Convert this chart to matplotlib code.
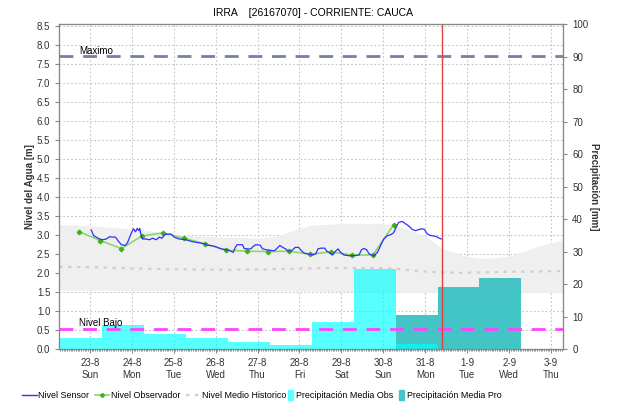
import numpy as np
import matplotlib
matplotlib.use('Agg')
import matplotlib.pyplot as plt
from matplotlib.lines import Line2D
from matplotlib.patches import Patch, Rectangle
from matplotlib.legend_handler import HandlerPatch

#time axis in days counted from 23-8 00:00
day_labels = ['23-8\nSun', '24-8\nMon', '25-8\nTue', '26-8\nWed', '27-8\nThu', '28-8\nFri',
              '29-8\nSat', '30-8\nSun', '31-8\nMon', '1-9\nTue', '2-9\nWed', '3-9\nThu']

#sensor water level [m]
sensor_t = [0.03, 0.09, 0.15, 0.23, 0.31, 0.39, 0.47, 0.55, 0.61, 0.67, 0.75, 0.85, 0.90, 0.98,
            1.04, 1.09, 1.13, 1.17, 1.19, 1.22, 1.26, 1.34, 1.42, 1.50, 1.58, 1.66, 1.72, 1.78,
            1.86, 1.94, 2.01, 2.13, 2.29, 2.45, 2.61, 2.75, 2.81, 2.97, 3.13, 3.29, 3.36, 3.42,
            3.47, 3.51, 3.64, 3.68, 3.76, 3.84, 3.90, 3.96, 4.06, 4.12, 4.24, 4.40, 4.46, 4.53,
            4.60, 4.67, 4.75, 4.83, 4.90, 4.98, 5.03, 5.11, 5.19, 5.31, 5.39, 5.44, 5.51, 5.60,
            5.65, 5.70, 5.79, 5.87, 5.92, 5.98, 6.06, 6.18, 6.30, 6.42, 6.48, 6.54, 6.60, 6.66,
            6.78, 6.86, 6.94, 7.01, 7.10, 7.17, 7.24, 7.27, 7.32, 7.37, 7.45, 7.53, 7.61, 7.69,
            7.77, 7.85, 7.93, 7.98, 8.05, 8.13, 8.25, 8.32, 8.38]
sensor_level = [3.14, 2.99, 2.95, 2.90, 2.88, 2.90, 2.96, 2.95, 2.95, 2.86, 2.75, 2.73, 2.81, 3.03,
                3.17, 3.09, 3.18, 3.12, 3.18, 3.01, 2.90, 2.90, 2.88, 2.92, 2.88, 2.95, 2.92, 3.01,
                3.03, 3.03, 2.95, 2.90, 2.88, 2.83, 2.80, 2.77, 2.74, 2.71, 2.64, 2.61, 2.58, 2.55,
                2.68, 2.75, 2.75, 2.65, 2.64, 2.64, 2.71, 2.75, 2.74, 2.64, 2.61, 2.59, 2.65, 2.73,
                2.68, 2.64, 2.57, 2.61, 2.68, 2.68, 2.61, 2.53, 2.51, 2.48, 2.51, 2.64, 2.66, 2.66,
                2.58, 2.55, 2.48, 2.59, 2.64, 2.55, 2.48, 2.46, 2.46, 2.48, 2.62, 2.65, 2.62, 2.51,
                2.46, 2.55, 2.74, 2.90, 2.99, 3.01, 3.06, 3.12, 3.25, 3.34, 3.36, 3.30, 3.24, 3.15,
                3.12, 3.15, 3.17, 3.15, 3.03, 2.99, 2.97, 2.93, 2.90]

#observer readings at 06:00 and 18:00 [m]
obs_t = [-0.25, 0.25, 0.75, 1.25, 1.75, 2.25, 2.75, 3.25, 3.75, 4.25, 4.75, 5.25, 5.75, 6.25, 6.75, 7.25]
obs_level = [3.09, 2.86, 2.65, 2.98, 3.06, 2.92, 2.77, 2.61, 2.58, 2.57, 2.58, 2.50, 2.56, 2.48, 2.48, 3.28]

#historic band (min / max) and historic mean [m]
hist_t = [-0.73, 0.03, 0.9, 1.7, 2.5, 3.3, 4.1, 4.5, 4.9, 5.3, 6.06, 6.86, 7.25, 7.65, 8.05,
          8.44, 8.84, 9.24, 9.63, 10.03, 10.43, 10.82, 11.3]
hist_max = [3.28, 3.25, 3.17, 3.08, 2.98, 2.94, 2.93, 2.98, 3.15, 3.27, 3.30, 3.31, 3.28, 3.12,
            2.94, 2.64, 2.48, 2.40, 2.40, 2.46, 2.61, 2.75, 2.88]
hist_min = [1.56, 1.56, 1.55, 1.55, 1.55, 1.55, 1.54, 1.54, 1.53, 1.53, 1.52, 1.52, 1.51, 1.50,
            1.50, 1.49, 1.49, 1.49, 1.49, 1.49, 1.49, 1.49, 1.49]
hist_mean = [2.17, 2.16, 2.13, 2.11, 2.10, 2.09, 2.10, 2.11, 2.12, 2.13, 2.14, 2.14, 2.12, 2.08,
             2.04, 2.02, 2.01, 2.02, 2.03, 2.04, 2.04, 2.05, 2.06]

#daily precipitation, days start at 07:00 [mm]
precip_obs_start = [-1.708, -0.708, 0.292, 1.292, 2.292, 3.292, 4.292, 5.292, 6.292, 7.292]
precip_obs = [11.7, 3.5, 7.4, 4.7, 3.5, 2.2, 1.2, 8.3, 24.8, 1.5]
precip_pro_start = [7.292, 8.292, 9.292]
precip_pro = [10.7, 19.2, 21.8]

nivel_maximo = 7.7
nivel_bajo = 0.54
now_t = 8.40


#upright swatch for the bar entries of the legend
def tall_patch(legend, orig_handle, xdescent, ydescent, width, height, fontsize):
    return Rectangle((-xdescent, -ydescent - 0.3 * height), width, 1.6 * height)


def main():
    plt.rcParams['font.family'] = ['Liberation Sans', 'DejaVu Sans']
    fig = plt.figure(figsize=(6.26, 4.05), dpi=100)
    ax = fig.add_axes([0.0947, 0.1375, 0.805, 0.803])
    x_lim = (-0.729, 11.29)
    y_lim = (0, 8.55)

    #historic band and mean in the background
    ax.fill_between(hist_t, hist_min, hist_max, color='#efefef', lw=0, zorder=1)
    ax.plot(hist_t, hist_mean, color='#cfcfcf', lw=1.6, ls=(0, (1.5, 2.5)), zorder=2)
    ax.set_xlim(x_lim)
    ax.set_ylim(y_lim)
    ax.set_yticks(np.arange(0, 8.51, 0.5))
    ax.set_yticklabels(['%.1f' % v for v in np.arange(0, 8.51, 0.5)])
    ax.set_xticks(range(len(day_labels)))
    ax.set_xticklabels(day_labels)
    ax.set_xticks(np.arange(-17, 11.3 * 24, 1) / 24.0, minor=True)
    ax.grid(True, color='#c4c4c4', ls=(0, (1.5, 2)), lw=0.8, zorder=1.5)
    ax.set_axisbelow(True)
    ax.tick_params(axis='both', labelsize=7, length=3, color='#888888', labelcolor='#333333')
    ax.tick_params(axis='x', which='minor', length=1.5, color='#777777')
    ax.set_ylabel('Nivel del Agua [m]', fontsize=7, fontweight='bold', color='#333333', labelpad=1)

    #precipitation bars on the right axis
    ax2 = ax.twinx()
    ax2.bar(precip_pro_start, precip_pro, width=1.0, align='edge', color='#34c0c0', alpha=0.92, lw=0)
    ax2.bar(precip_obs_start, precip_obs, width=1.0, align='edge', color='#00ffff', alpha=0.66, lw=0)
    ax2.set_xlim(x_lim)
    ax2.set_ylim(0, 100)
    ax2.set_yticks(range(0, 101, 10))
    ax2.tick_params(axis='y', labelsize=7, length=3, color='#888888', labelcolor='#333333')
    ax2.set_ylabel('Precipitación [mm]', fontsize=7, fontweight='bold', color='#333333',
                   rotation=270, labelpad=8)

    #water levels and reference lines on top
    ax3 = ax.twinx()
    ax3.set_xlim(x_lim)
    ax3.set_ylim(y_lim)
    ax3.set_yticks([])
    ax3.axhline(nivel_maximo, color='#7480a6', lw=2, ls=(0, (5, 3.5)))
    ax3.axhline(nivel_bajo, color='#ff44ff', lw=2, ls=(0, (5, 3.5)))
    ax3.text(-0.25, nivel_maximo + 0.06, 'Maximo', fontsize=7)
    ax3.text(-0.25, nivel_bajo + 0.06, 'Nivel Bajo', fontsize=7)
    ax3.plot(obs_t, obs_level, color='#8ad86c', lw=1.2, marker='D', ms=2.3, mfc='#3cb414', mec='#3cb414')
    ax3.plot(sensor_t, sensor_level, color='#3030ff', lw=0.9)
    ax3.axvline(now_t, color='#e04040', lw=1)

    for a in (ax, ax2, ax3):
        for s in a.spines.values():
            s.set_color('#888888')

    fig.text(0.5, 0.968, 'IRRA    [26167070] - CORRIENTE: CAUCA', ha='center', va='center', fontsize=7.5)

    #legend along the bottom: level lines first, then the precipitation swatches
    line_handles = [Line2D([], [], color='#3030ff', lw=1),
                    Line2D([], [], color='#8ad86c', lw=1.2, marker='D', ms=2, mfc='#3cb414', mec='#3cb414'),
                    Line2D([], [], color='#cfcfcf', lw=1.6, ls=(0, (1.5, 2.5)))]
    line_labels = ['Nivel Sensor', 'Nivel Observador', 'Nivel Medio Historico']
    fig.legend(line_handles, line_labels, loc='lower left', bbox_to_anchor=(22 / 626.0, 0.012),
               ncol=3, frameon=False, fontsize=6.4, handlelength=1.65, handletextpad=0.2,
               columnspacing=0.6, borderpad=0, borderaxespad=0)
    bar_handles = [Patch(color='#5cffff'), Patch(color='#45c6c6')]
    bar_labels = ['Precipitación Media Obs', 'Precipitación Media Pro']
    fig.legend(bar_handles, bar_labels, loc='lower left', bbox_to_anchor=(288 / 626.0, 0.012),
               ncol=2, frameon=False, fontsize=6.4, handlelength=0.6, handletextpad=0.3,
               columnspacing=0.6, borderpad=0, borderaxespad=0,
               handler_map={Patch: HandlerPatch(patch_func=tall_patch)})

    fig.savefig('out.png', dpi=100)


if __name__ == "__main__":
    main()
